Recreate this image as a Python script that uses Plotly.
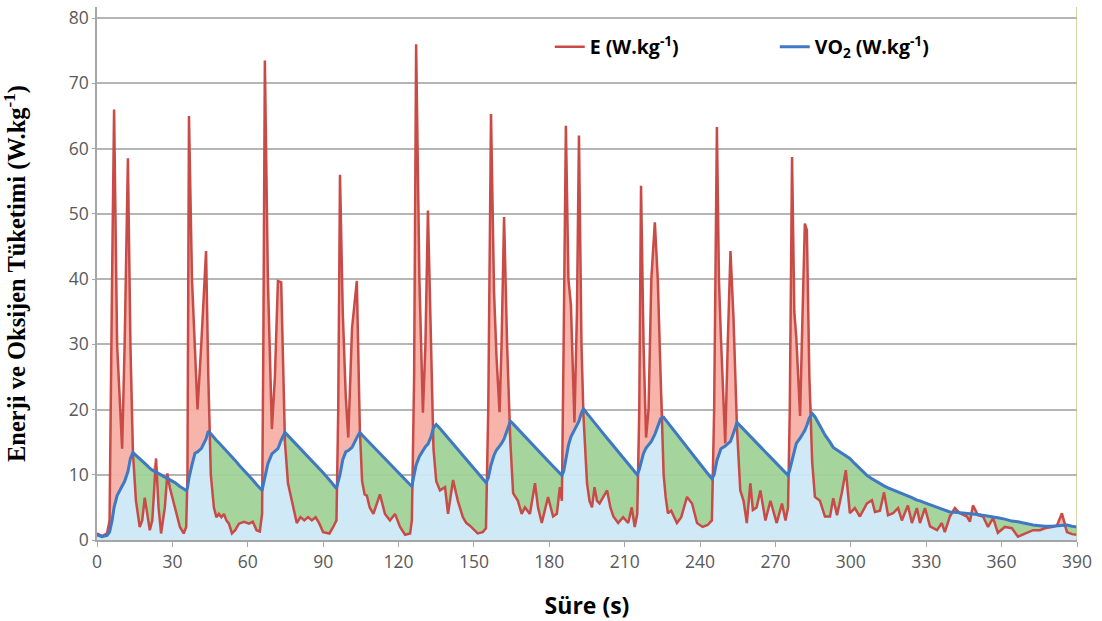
import numpy as np
import plotly.graph_objects as go

# Time (s)
t = [0, 2, 4, 5, 6, 6.8, 8, 9, 10, 11, 12.3, 13.3, 14.3, 15.5, 17, 18, 19, 20, 21, 22, 23.5, 24.5, 25.5, 27, 28, 29, 31, 33, 34.5, 35.5,
     36, 36.6, 37.8, 39, 40, 41.5, 43.4, 44.3, 45.3, 46.5, 47.5, 48.5, 49.5, 50.5, 51.5, 52.5, 53.7, 55, 56.5, 58.5, 60.5, 62, 63.5, 64.8, 65.7,
     66.2, 66.8, 68, 69.6, 70.8, 72, 73.3, 74.8, 76, 77, 78, 79.5, 81, 82.5, 84, 85.5, 87, 88.5, 90, 92.5, 94, 95.3,
     96, 96.7, 97.8, 99, 100, 101.5, 103.4, 104.6, 105.5, 106.5, 107.4, 108.5, 110, 112.6, 114.6, 116.6, 118.6, 120.6, 122.6, 124.6, 125.3,
     126.2, 127, 128.3, 129.7, 130.7, 131.7, 132.8, 133.9, 135, 136.5, 138.5, 139.7, 141.7, 143.6, 145.6, 147, 148.4, 150, 151.5, 153.5, 154.8,
     155.7, 156.8, 158, 159, 160.2, 161, 162, 163.2, 164.5, 165.6, 167.5, 169, 170.3, 172.3, 174.3, 175.5, 177, 179.5, 181.5, 183, 184.2, 185,
     185.7, 186.6, 187.6, 188.6, 190, 191, 191.8, 192.8, 193.6, 195, 196, 197, 198, 199, 200, 201.5, 203, 204.3, 205.5, 207.4, 209.4, 211.4, 212.8, 214, 215,
     215.8, 216.5, 217.5, 218.5, 219.5, 220.6, 222, 223.2, 224.3, 225.5, 226.3, 227.2, 228.5, 230.8, 232.5, 234.8, 236.8, 238.8, 241, 243, 244.7,
     245.6, 246.7, 247.5, 248.3, 250, 251, 252.1, 253.3, 254.7, 256, 257.3, 258.6, 260, 261, 262.5, 264, 266, 268, 270.5, 272.6, 274, 275,
     275.7, 276.6, 277.5, 278.3, 279.8, 280.8, 281.7, 282.5, 283.5, 284.6, 285.7, 287.7, 289.7, 291.7, 293, 294.5, 296.4, 298, 299.6,
     301.6, 303.6, 306.4, 308.4, 309.6, 311.6, 313.2, 314.8, 316.8, 318.8, 320.3, 322.7, 324.3, 326.3, 327.5, 329.5, 331.5, 334.3, 336.2,
     337.4, 339.4, 341.4, 343.4, 346.2, 347.4, 348.6, 350.6, 352.6, 354.6, 356.6, 358.5, 361.3, 364.1, 366.5, 370, 372.5, 375.2, 377.2,
     380, 382, 384, 386, 388, 390]

# Energy E (W/kg)
E = [1.0, 0.6, 1.0, 3, 40, 66, 30, 22, 14, 30, 58.5, 30, 13.4, 6, 2, 3, 6.5, 4, 1.5, 3, 12.5, 5, 1.0, 5, 10.2, 8, 5, 2, 1.0, 2,
     10, 65, 40, 30, 20, 30, 44.3, 25, 10, 5, 3.5, 4, 3.5, 4, 3.0, 2.5, 1.0, 1.5, 2.5, 2.8, 2.5, 2.8, 1.5, 1.3, 4,
     30, 73.5, 40, 17, 25, 39.7, 39.5, 15, 8.7, 7, 5, 2.6, 3.5, 3, 3.5, 3.0, 3.5, 2.5, 1.2, 1.0, 2, 3,
     20, 56, 35, 22, 15.7, 32.5, 39.7, 17, 9, 7, 6.8, 5, 4, 7, 4, 3, 4, 2, 0.8, 1, 3,
     25, 76, 40, 19.5, 30, 50.5, 30, 14, 9, 7.6, 8.1, 4, 9.2, 6, 3.5, 2.6, 2.2, 1.5, 1.0, 1.2, 1.8,
     20, 65.3, 38, 28, 19.6, 30, 49.5, 30, 15, 7.2, 6, 4, 5, 4, 8.7, 5, 2.6, 6.6, 3.6, 4, 8.1, 6,
     30, 63.5, 40, 36, 18, 35, 62, 30, 19, 8.7, 6, 5, 8.1, 6, 5.6, 6.5, 7.6, 5, 3.6, 2.6, 3.5, 2.6, 5, 2, 4,
     20, 54.3, 30, 15.7, 20, 40, 48.7, 39.7, 25, 10, 6.6, 4.1, 4.5, 2.6, 3.5, 6.6, 5.6, 2.6, 2, 2.3, 3,
     20, 63.3, 40, 31, 14.8, 30, 44.3, 34, 17, 7.6, 6, 2.6, 8.7, 4.6, 5, 7.6, 3, 6, 2.6, 5.6, 3, 5,
     20, 58.7, 35, 31, 19, 35, 48.5, 47.5, 25, 12, 6.6, 6, 3.6, 3.6, 6.4, 3.8, 7.2, 10.7, 4.1,
     4.9, 3.6, 5.6, 6.1, 4.3, 4.5, 7.3, 3.8, 4.1, 4.9, 3, 5.3, 2.6, 4.9, 2.6, 4.9, 2.1, 1.5, 2.6,
     1.2, 3.6, 4.9, 4.1, 3.6, 2.8, 5.3, 3.8, 3.6, 2, 3.4, 1.1, 2, 1.8, 0.5, 1.1, 1.5, 1.5, 1.8,
     2, 2.2, 4.1, 1.2, 0.9, 0.8]

# Oxygen uptake VO2 (W/kg)
VO2 = [0.8, 0.5, 0.7, 1.2, 3, 5, 6.8, 7.5, 8.2, 9, 10.5, 12.5, 13.4, 13.0, 12.4, 12.1, 11.8, 11.4, 11.0, 10.7, 10.4, 10.2, 10.0, 9.6, 9.4, 9.2, 8.8, 8.2, 7.8, 7.6,
       8, 9.5, 11.5, 13.3, 13.5, 14.0, 15.5, 16.7, 16.3, 15.7, 15.3, 14.9, 14.5, 14.1, 13.6, 13.2, 12.7, 12.2, 11.5, 10.7, 9.8, 9.2, 8.5, 8.0, 7.6,
       8.5, 9.5, 11.7, 13.2, 13.6, 14, 15.3, 16.5, 16, 15.6, 15.2, 14.6, 14, 13.4, 12.7, 12.1, 11.5, 10.9, 10.3, 9.2, 8.5, 7.9,
       9, 10, 12.3, 13.5, 13.7, 14.2, 15.7, 16.5, 16.1, 15.7, 15.3, 14.9, 14.3, 13.3, 12.5, 11.7, 10.9, 10.1, 9.3, 8.5, 8.2,
       10, 11.5, 12.8, 13.7, 14.3, 14.7, 15.7, 17.2, 17.7, 17.1, 16.2, 15.6, 14.7, 13.8, 13, 12.4, 11.8, 11.1, 10.4, 9.4, 8.8,
       9.5, 11.5, 13, 13.8, 14.4, 14.8, 15.5, 16.8, 18.2, 17.8, 17, 16.4, 15.9, 15, 14.2, 13.7, 13.1, 12.1, 11.3, 10.7, 10.2, 9.9,
       10.5, 12.5, 14.5, 15.8, 16.8, 17.5, 18.2, 19.5, 20.1, 19.4, 18.9, 18.5, 18, 17.5, 17, 16.3, 15.6, 15, 14.4, 13.5, 12.6, 11.6, 11, 10.4, 10,
       10.8, 12, 13.3, 14.1, 14.5, 15.1, 16.2, 17.5, 18.6, 18.8, 18.4, 18, 17.3, 16.2, 15.4, 14.3, 13.3, 12.3, 11.2, 10.2, 9.4,
       10, 12.2, 13.3, 14, 14.4, 14.7, 15.1, 16.4, 18, 17.5, 17, 16.4, 15.9, 15.5, 14.9, 14.3, 13.5, 12.7, 11.7, 10.8, 10.3, 9.9,
       10.8, 12.3, 13.8, 14.8, 15.6, 16.2, 16.8, 17.6, 18.7, 19.4, 18.9, 17.5, 16.1, 15, 14.2, 13.8, 13.3, 12.8, 12.5,
       11.7, 10.9, 9.9, 9.4, 9.1, 8.7, 8.3, 8.0, 7.7, 7.3, 7.1, 6.8, 6.5, 6.1, 6.0, 5.7, 5.4, 5.1, 4.8,
       4.6, 4.3, 4.25, 4.2, 4.1, 4.05, 4.0, 3.9, 3.8, 3.7, 3.6, 3.4, 3.2, 2.9, 2.8, 2.5, 2.3, 2.2, 2.1,
       2.1, 2.2, 2.3, 2.3, 2.1, 2.0]

x_ticks = list(range(0, 391, 30))
y_ticks = list(range(0, 81, 10))

Ea = np.array(E, dtype=float)
Va = np.array(VO2, dtype=float)
lower = np.minimum(Ea, Va)
upper = np.maximum(Ea, Va)

fig = go.Figure()
fig.add_trace(go.Scatter(x=t, y=lower, mode="lines", line=dict(width=0),
                         fill="tozeroy", fillcolor="rgba(205,232,245,0.95)",
                         showlegend=False, hoverinfo="skip"))
fig.add_trace(go.Scatter(x=t, y=VO2, mode="lines", line=dict(width=0),
                         fill="tonexty", fillcolor="rgba(160,210,152,0.95)",
                         showlegend=False, hoverinfo="skip"))
fig.add_trace(go.Scatter(x=t, y=upper, mode="lines", line=dict(width=0),
                         fill="tonexty", fillcolor="rgba(246,176,166,0.95)",
                         showlegend=False, hoverinfo="skip"))
fig.add_trace(go.Scatter(x=t, y=E, mode="lines", name="<b>E (W.kg<sup>-1</sup>)</b>",
                         line=dict(color="#C84B47", width=2.5)))
fig.add_trace(go.Scatter(x=t, y=VO2, mode="lines", name="<b>VO<sub>2</sub> (W.kg<sup>-1</sup>)</b>",
                         line=dict(color="#3F78C3", width=3)))

fig.add_shape(type="line", xref="x", yref="paper", x0=390, x1=390, y0=0, y1=1,
              line=dict(color="#C4C48E", width=1.5), layer="above")

fig.update_layout(
    width=1102, height=621,
    margin=dict(l=97, r=25, t=5, b=81),
    paper_bgcolor="white", plot_bgcolor="white",
    font=dict(family="Open Sans, sans-serif", color="#595959", size=17),
    legend=dict(orientation="h", x=0.462, y=0.925, xanchor="left", yanchor="middle",
                font=dict(family="Open Sans, sans-serif", size=19.5, color="black"),
                bgcolor="rgba(255,255,255,0)", traceorder="normal",
                entrywidth=180, entrywidthmode="pixels"),
    xaxis=dict(range=[0, 390], tickvals=x_ticks, ticktext=[str(v) for v in x_ticks],
               showgrid=False, zeroline=False, showline=True, linecolor="#A6A6A6", linewidth=1.5,
               ticks="outside", ticklen=5, tickcolor="#A6A6A6",
               tickfont=dict(size=17.5, color="#595959"),
               title=dict(text="<b>Süre (s)</b>", font=dict(family="Open Sans, sans-serif", size=23, color="black"),
                          standoff=26)),
    yaxis=dict(range=[0, 81.7], tickvals=y_ticks, ticktext=[str(v) for v in y_ticks],
               showgrid=True, gridcolor="#B5B5B5", gridwidth=1.5, zeroline=False,
               showline=True, linecolor="#A6A6A6", linewidth=1.5,
               ticks="outside", ticklen=3, tickcolor="#A6A6A6",
               tickfont=dict(size=17.5, color="#595959"),
               title=dict(text="<b>Enerji ve Oksijen Tüketimi (W.kg<sup>-1</sup>)</b>",
                          font=dict(family="Liberation Serif, Times New Roman, serif", size=24.5, color="black"),
                          standoff=36)),
)

fig.write_html("out.html")
